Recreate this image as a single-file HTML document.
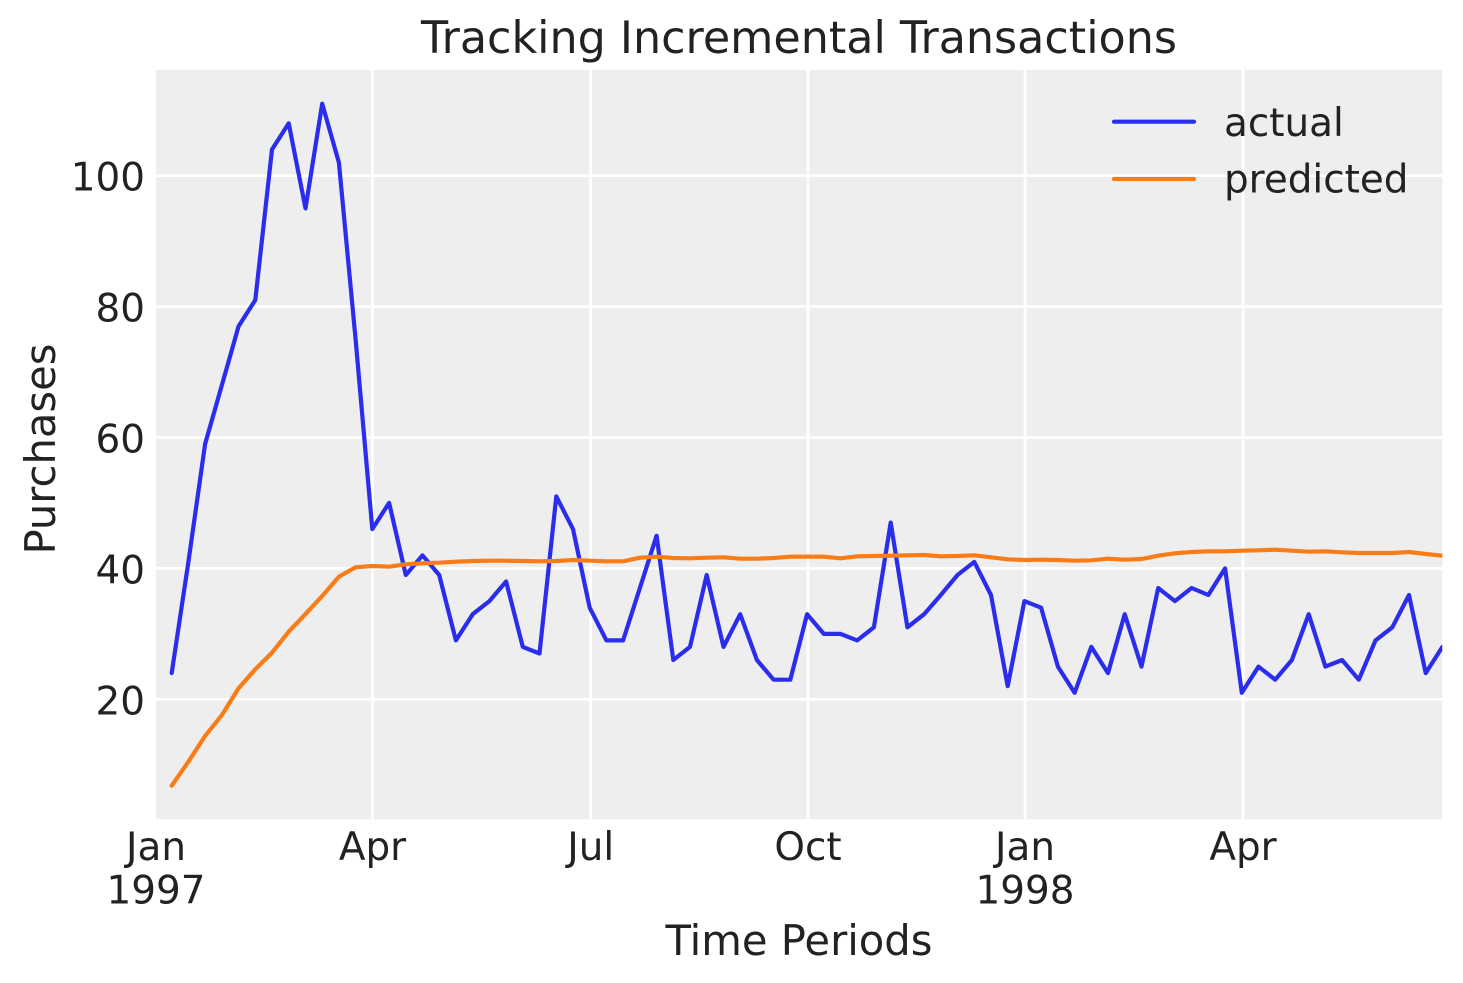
<!DOCTYPE html>
<html>
<head>
<meta charset="utf-8">
<style>
  html, body { margin: 0; padding: 0; background: #ffffff; }
  svg { display: block; }
  text { font-family: "DejaVu Sans", "Liberation Sans", sans-serif; fill: #222222; }
</style>
</head>
<body>
<svg width="1463" height="983" viewBox="0 0 1463 983" xmlns="http://www.w3.org/2000/svg">
  <defs>
    <clipPath id="plotclip">
      <rect x="156" y="70" width="1286.3" height="749.3"/>
    </clipPath>
  </defs>
  <rect x="0" y="0" width="1463" height="983" fill="#ffffff"/>
  <!-- plot background -->
  <rect x="156" y="70" width="1286.3" height="749.3" fill="#eeeeee"/>

  <!-- gridlines -->
  <g stroke="#ffffff" stroke-width="2.7" clip-path="url(#plotclip)">
    <line x1="156" y1="699.3" x2="1442.3" y2="699.3"/>
    <line x1="156" y1="568.4" x2="1442.3" y2="568.4"/>
    <line x1="156" y1="437.5" x2="1442.3" y2="437.5"/>
    <line x1="156" y1="306.6" x2="1442.3" y2="306.6"/>
    <line x1="156" y1="175.7" x2="1442.3" y2="175.7"/>
    <line x1="372.5" y1="70" x2="372.5" y2="819.3"/>
    <line x1="590.7" y1="70" x2="590.7" y2="819.3"/>
    <line x1="808" y1="70" x2="808" y2="819.3"/>
    <line x1="1025" y1="70" x2="1025" y2="819.3"/>
    <line x1="1243" y1="70" x2="1243" y2="819.3"/>
  </g>

  <!-- series -->
  <g clip-path="url(#plotclip)" fill="none" stroke-width="4.2" stroke-linejoin="round" stroke-linecap="round">
    <polyline stroke="#2a2eec" points="
171.7,673.1 188.4,561.9 205.1,444.0 221.9,385.1 238.6,326.2 255.3,300.0 272.0,149.5 288.7,123.3 305.5,208.4 322.2,103.7
338.9,162.6 355.6,339.3 372.3,529.1 389.1,502.9 405.8,575.0 422.5,555.3 439.2,575.0 455.9,640.4 472.7,614.2 489.4,601.1
506.1,581.5 522.8,646.9 539.5,653.5 556.3,496.4 573.0,529.1 589.7,607.7 606.4,640.4 623.1,640.4 639.9,588.0 656.6,535.7
673.3,660.0 690.0,646.9 706.7,575.0 723.5,646.9 740.2,614.2 756.9,660.0 773.6,679.7 790.3,679.7 807.1,614.2 823.8,633.9
840.5,633.9 857.2,640.4 873.9,627.3 890.7,522.6 907.4,627.3 924.1,614.2 940.8,595.0 957.5,575.0 974.3,561.9 991.0,595.0
1007.7,686.2 1024.4,601.1 1041.1,607.7 1057.9,666.6 1074.6,692.8 1091.3,646.9 1108.0,673.1 1124.7,614.2 1141.5,666.6 1158.2,588.0
1174.9,601.1 1191.6,588.0 1208.3,595.0 1225.1,568.4 1241.8,692.8 1258.5,666.6 1275.2,679.7 1291.9,660.0 1308.7,614.2 1325.4,666.6
1342.1,660.0 1358.8,679.7 1375.5,640.4 1392.3,627.3 1409.0,595.0 1425.7,673.1 1442.4,646.9"/>
    <polyline stroke="#fa7c17" points="
171.7,785.7 188.4,761.7 205.1,736.0 221.9,715.0 238.6,688.3 255.3,669.3 272.0,652.7 288.7,631.7 305.5,614.0 322.2,596.0
338.9,576.7 355.6,567.3 372.3,566.0 389.1,566.7 405.8,564.3 422.5,563.3 439.2,562.7 455.9,561.7 472.7,561.0 489.4,560.7
506.1,560.7 522.8,561.0 539.5,561.3 556.3,561.0 573.0,560.0 589.7,560.7 606.4,561.3 623.1,561.3 639.9,557.7 656.6,556.7
673.3,558.0 690.0,558.3 706.7,557.7 723.5,557.3 740.2,558.7 756.9,558.7 773.6,558.0 790.3,556.7 807.1,556.7 823.8,556.7
840.5,558.3 857.2,556.3 873.9,556.0 890.7,555.7 907.4,555.3 924.1,555.0 940.8,556.3 957.5,556.0 974.3,555.3 991.0,557.3
1007.7,559.3 1024.4,560.0 1041.1,559.7 1057.9,560.0 1074.6,560.7 1091.3,560.3 1108.0,558.7 1124.7,559.7 1141.5,559.0 1158.2,555.7
1174.9,553.3 1191.6,552.0 1208.3,551.3 1225.1,551.3 1241.8,550.7 1258.5,550.3 1275.2,549.7 1291.9,550.7 1308.7,551.7 1325.4,551.3
1342.1,552.3 1358.8,553.0 1375.5,553.0 1392.3,553.0 1409.0,552.0 1425.7,554.0 1442.4,555.7"/>
  </g>

  <!-- legend -->
  <g stroke-width="4.2" stroke-linecap="round">
    <line x1="1114" y1="121.7" x2="1194" y2="121.7" stroke="#2a2eec"/>
    <line x1="1114" y1="179" x2="1194" y2="179" stroke="#fa7c17"/>
  </g>
  <text x="1224" y="136" font-size="38.9">actual</text>
  <text x="1224" y="192.7" font-size="38.9">predicted</text>

  <!-- y tick labels -->
  <g font-size="38.9" text-anchor="end">
    <text x="145" y="714.3">20</text>
    <text x="145" y="583.4">40</text>
    <text x="145" y="452.5">60</text>
    <text x="145" y="321.6">80</text>
    <text x="145" y="190.7">100</text>
  </g>

  <!-- x tick labels -->
  <g font-size="38.9" text-anchor="middle">
    <text x="156" y="860">Jan</text>
    <text x="156" y="903.3">1997</text>
    <text x="372.5" y="860">Apr</text>
    <text x="590.7" y="860">Jul</text>
    <text x="808" y="860">Oct</text>
    <text x="1025" y="860">Jan</text>
    <text x="1025" y="903.3">1998</text>
    <text x="1243" y="860">Apr</text>
  </g>

  <!-- axis labels -->
  <text x="799" y="955" font-size="41.7" text-anchor="middle">Time Periods</text>
  <text x="0" y="0" font-size="41.7" text-anchor="middle" transform="translate(55,449) rotate(-90)">Purchases</text>

  <!-- title -->
  <text x="799" y="53" font-size="44.4" text-anchor="middle">Tracking Incremental Transactions</text>
</svg>
</body>
</html>
